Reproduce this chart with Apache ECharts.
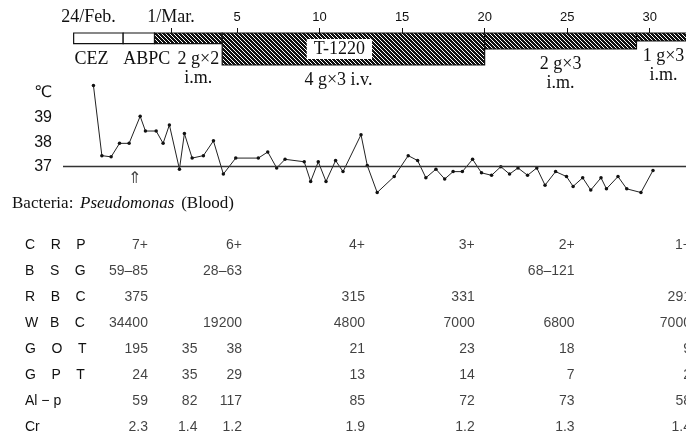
<!DOCTYPE html>
<html><head><meta charset="utf-8">
<script src="https://cdn.jsdelivr.net/npm/echarts@6/dist/echarts.min.js"></script>
<style>html,body{margin:0;padding:0;background:#fff}#c{width:686px;height:442px}</style>
</head><body><div id="c"></div>
<script>
// ---------- data (day 1 = 1 March, 24 Feb = day -4) ----------
const dateTickDays   = [-4, 1, 5, 10, 15, 20, 25, 30];
const dateTickLabels = ['24/Feb.', '1/Mar.', '5', '10', '15', '20', '25', '30'];
const dayTickMarks   = [1, 5, 10, 15, 20, 25, 30];

// antibiotic regimen
const drugStart     = [-4.9, -1.9, 0, 4.1, 20, 29.2];
const drugEnd       = [-1.9, 0, 4.1, 20, 29.2, 34];
const drugDailyDose = [4, 4, 4, 12, 6, 3];           // g/day (CEZ, ABPC drawn in same thin band)
const drugText      = ['CEZ', 'ABPC', '2 g×2\ni.m.', '4 g×3 i.v.', '2 g×3\ni.m.', '1 g×3\ni.m.'];
const drugHatched   = [false, false, true, true, true, true];
const drugTag       = ['', '', '', 'T-1220', '', ''];

// body temperature (°C)
const tempDays = [-3.70,-3.19,-2.63,-2.12,-1.54,-0.87,-0.55,0.10,0.52,0.90,1.51,1.81,2.28,2.96,3.57,4.17,4.92,6.29,6.86,7.40,7.91,9.07,9.46,9.92,10.39,10.97,11.42,12.51,12.89,13.49,14.52,15.37,15.94,16.44,17.05,17.58,18.09,18.65,19.27,19.81,20.42,20.98,21.51,22.02,22.60,23.16,23.66,24.30,24.96,25.36,25.94,26.43,27.05,27.38,28.08,28.61,29.47,30.20];
const tempValues = [40.3,37.45,37.4,37.95,37.95,39.05,38.45,38.45,37.95,38.7,36.9,38.35,37.35,37.45,38.05,36.7,37.35,37.35,37.6,36.95,37.3,37.2,36.4,37.2,36.4,37.25,36.8,38.3,37.05,35.95,36.6,37.45,37.25,36.55,36.9,36.5,36.8,36.8,37.3,36.75,36.65,37.0,36.7,36.95,36.65,36.95,36.25,36.8,36.6,36.2,36.55,36.05,36.55,36.1,36.6,36.1,35.95,36.85];
const tempTicks = [37, 38, 39];
const cultureDay = -1.2, cultureTemp = 36.5;

// laboratory table
const labRows = ['C    R    P', 'B    S    G', 'R    B    C', 'W   B    C', 'G    O    T', 'G    P    T', 'Al − p', 'Cr'];
const labDays = [-0.4, 2.6, 5.3, 12.75, 19.4, 25.45, 32.5];
const crp = ['7+', '', '6+', '4+', '3+', '2+', '1+'];
const bsg = ['59–85', '', '28–63', '', '', '68–121', ''];
const rbc = ['375', '', '', '315', '331', '', '291'];
const wbc = ['34400', '', '19200', '4800', '7000', '6800', '7000'];
const got = ['195', '35', '38', '21', '23', '18', '9'];
const gpt = ['24', '35', '29', '13', '14', '7', '2'];
const alp = ['59', '82', '117', '85', '72', '73', '58'];
const cr  = ['2.3', '1.4', '1.2', '1.9', '1.2', '1.3', '1.4'];
const labTable = [crp, bsg, rbc, wbc, got, gpt, alp, cr];

// ---------- rendering ----------
const SERIF = '"Liberation Serif","DejaVu Serif",serif';
const SANS = '"Liberation Sans","DejaVu Sans",sans-serif';
const X_MIN = -5.545, X_MAX = 32.2;

function hatchPattern() {
  const c = document.createElement('canvas'); c.width = 4; c.height = 4;
  const g = c.getContext('2d');
  g.fillStyle = '#111'; g.fillRect(0, 0, 4, 4);
  g.strokeStyle = '#fff'; g.lineWidth = 1;
  g.beginPath();
  g.moveTo(-1, -1); g.lineTo(5, 5);
  g.moveTo(-1, 3); g.lineTo(1, 5);
  g.moveTo(3, -1); g.lineTo(5, 1);
  g.stroke();
  return c;
}
const pattern = { image: hatchPattern(), repeat: 'repeat' };

const drugData = drugStart.map((s, i) => [s, drugEnd[i], drugDailyDose[i], i]);
const labelAlign = ['center', 'center', 'center', 'center', 'center', 'center'];
const labelDx = [-7, 8, 10, -15, 0, 0];
const labelFromStart = [false, false, false, false, false, true];

const labData = [];
labTable.forEach((row, r) => row.forEach((v, c) => { if (v) labData.push([labDays[c], r, v]); }));

const chart = echarts.init(document.getElementById('c'), null, { renderer: 'canvas' });
chart.setOption({
  animation: false,
  backgroundColor: '#fff',
  textStyle: { fontFamily: SANS, color: '#111' },
  grid: [
    { left: 63, right: 0, top: 33, height: 32 },
    { left: 63, right: 0, top: 92.9, height: 123 },
    { left: 63, right: 0, top: 232, height: 208 }
  ],
  xAxis: [
    { gridIndex: 0, type: 'value', position: 'top', min: X_MIN, max: X_MAX,
      axisLine: { show: false }, splitLine: { show: false },
      axisTick: { show: true, customValues: dayTickMarks, length: 5, lineStyle: { color: '#111', width: 1 } },
      axisLabel: { show: true, customValues: dateTickDays, margin: 7,
        formatter: v => { const i = dateTickDays.indexOf(v); const t = dateTickLabels[i]; return i < 2 ? '{s|' + t + '}' : '{n|' + t + '}'; },
        rich: { s: { fontFamily: SERIF, fontSize: 18, color: '#111' }, n: { fontFamily: SANS, fontSize: 13, color: '#111', padding: [0, 0, 2, 0] } } } },
    { gridIndex: 1, type: 'value', min: X_MIN, max: X_MAX, show: false },
    { gridIndex: 2, type: 'value', min: X_MIN, max: X_MAX, show: false }
  ],
  yAxis: [
    { gridIndex: 0, type: 'value', min: 0, max: 12, inverse: true, show: false },
    { gridIndex: 1, type: 'value', min: 35, max: 40, interval: 1,
      axisLine: { show: false }, axisTick: { show: false }, splitLine: { show: false },
      axisLabel: { margin: 11, fontSize: 16, color: '#111', fontFamily: SANS,
        formatter: v => v === 40 ? '℃' : (tempTicks.indexOf(v) >= 0 ? String(v) : '') } },
    { gridIndex: 2, type: 'category', inverse: true, data: labRows,
      axisLine: { show: false }, axisTick: { show: false }, splitLine: { show: false },
      axisLabel: { align: 'left', margin: 38, fontSize: 14, color: '#111', fontFamily: SANS } }
  ],
  graphic: [{
    type: 'text', left: 12, top: 195,
    style: { text: '{a|Bacteria:}  {b|Pseudomonas}  {a|(Blood)}',
      rich: { a: { fontFamily: SERIF, fontSize: 17, fill: '#111' }, b: { fontFamily: SERIF, fontSize: 17, fontStyle: 'italic', fill: '#111' } } }
  }],
  series: [
    { type: 'custom', xAxisIndex: 0, yAxisIndex: 0, data: drugData, clip: false,
      renderItem: (params, api) => {
        const i = api.value(3);
        const p0 = api.coord([api.value(0), 0]);
        const p1 = api.coord([api.value(1), api.value(2)]);
        const x0 = p0[0], x1 = p1[0], y0 = p0[1], y1 = p1[1];
        const children = [{
          type: 'rect', shape: { x: x0, y: y0, width: x1 - x0, height: y1 - y0 },
          style: { fill: drugHatched[i] ? pattern : '#fff', stroke: '#111', lineWidth: 1.2 }
        }];
        const ax = labelFromStart[i] ? x0 + 27 : (x0 + x1) / 2 + labelDx[i];
        children.push({ type: 'text', style: { text: drugText[i], x: ax, y: y1 + 6, align: labelAlign[i], verticalAlign: 'top',
          fontFamily: SERIF, fontSize: 18, lineHeight: 19, fill: '#111' } });
        if (drugTag[i]) {
          children.push({ type: 'text', style: { text: drugTag[i], x: (x0 + x1) / 2 - 14, y: (y0 + y1) / 2, align: 'center', verticalAlign: 'middle',
            fontFamily: SERIF, fontSize: 18, fill: '#111', backgroundColor: '#fff', padding: [1, 7] } });
        }
        return { type: 'group', children };
      } },
    { type: 'line', xAxisIndex: 1, yAxisIndex: 1, clip: false,
      data: tempDays.map((d, i) => [d, tempValues[i]]),
      symbol: 'circle', symbolSize: 3.5, showSymbol: true,
      lineStyle: { color: '#222', width: 1 }, itemStyle: { color: '#111' },
      markLine: { silent: true, symbol: 'none', label: { show: false },
        lineStyle: { color: '#333', width: 1.3, type: 'solid' }, data: [{ yAxis: 37 }] } },
    { type: 'scatter', xAxisIndex: 1, yAxisIndex: 1, data: [[cultureDay, cultureTemp]], symbolSize: 0, clip: false,
      label: { show: true, position: 'inside', formatter: '⇑', fontFamily: '"DejaVu Sans",sans-serif', fontSize: 16, color: '#111' } },
    { type: 'scatter', xAxisIndex: 2, yAxisIndex: 2, data: labData, symbolSize: 0, clip: false,
      label: { show: true, position: 'left', distance: 0, align: 'right', verticalAlign: 'middle',
        formatter: p => p.value[2], fontFamily: SANS, fontSize: 14, color: '#111' } }
  ]
});
</script></body></html>
